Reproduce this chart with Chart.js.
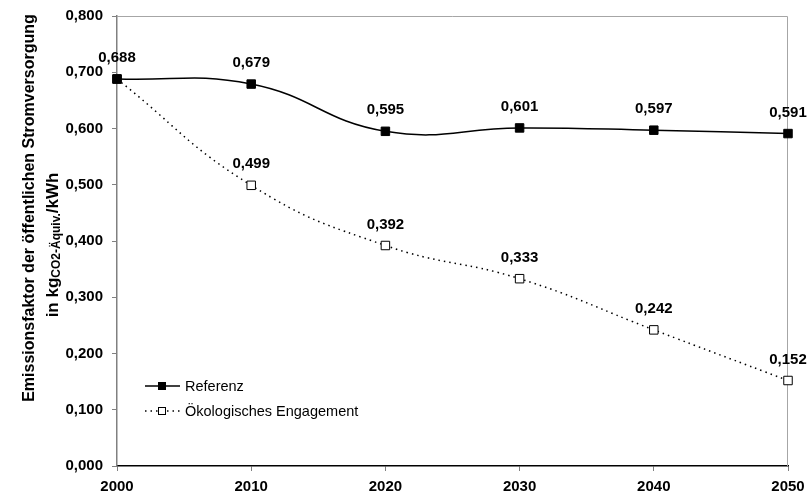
<!DOCTYPE html>
<html>
<head>
<meta charset="utf-8">
<script src="https://cdn.jsdelivr.net/npm/chart.js@4"></script>
<style>
  html, body { margin: 0; padding: 0; background: #fff; }
  #wrap { width: 808px; height: 498px; }
</style>
</head>
<body>
<div id="wrap"><canvas id="chart" width="808" height="498"></canvas></div>
<script>
// data
var jahre = [2000, 2010, 2020, 2030, 2040, 2050];
var referenz = [0.688, 0.679, 0.595, 0.601, 0.597, 0.591];
var oekologisch = [0.688, 0.499, 0.392, 0.333, 0.242, 0.152];
var serienNamen = ['Referenz', 'Ökologisches Engagement'];
var yTicks = [0, 0.1, 0.2, 0.3, 0.4, 0.5, 0.6, 0.7, 0.8];

function komma(v) {
    return v.toFixed(3).replace('.', ',');
}

function punkte(werte) {
    var arr = [];
    for (let i = 0; i < jahre.length; i++) {
        arr.push({ x: jahre[i], y: werte[i] });
    }
    return arr;
}

// labels above points (the 2000 value only once)
const wertLabels = {
    id: 'wertLabels',
    afterDatasetsDraw(chart) {
        var ctx = chart.ctx;
        ctx.save();
        ctx.font = 'bold 15px "Liberation Sans", Arial, sans-serif';
        ctx.fillStyle = '#000';
        ctx.textAlign = 'center';
        ctx.textBaseline = 'middle';
        chart.data.datasets.forEach(function (ds, di) {
            var meta = chart.getDatasetMeta(di);
            meta.data.forEach(function (pt, i) {
                if (di == 1 && i == 0) return;
                ctx.fillText(komma(ds.data[i].y), pt.x, pt.y - 21);
            });
        });
        ctx.restore();
    }
};

// gray frame top/right + legend + y title
const rahmen = {
    id: 'rahmen',
    beforeDatasetsDraw(chart) {
        var a = chart.chartArea;
        var ctx = chart.ctx;
        ctx.save();
        ctx.strokeStyle = '#a6a6a6';
        ctx.lineWidth = 1;
        ctx.beginPath();
        ctx.moveTo(a.left, a.top + 0.5);
        ctx.lineTo(a.right - 0.5, a.top + 0.5);
        ctx.lineTo(a.right - 0.5, a.bottom);
        ctx.stroke();
        ctx.restore();
    },
    afterDraw(chart) {
        var ctx = chart.ctx;
        ctx.save();
        // legend
        var ds = chart.data.datasets;
        var ly = [386, 411];
        for (let i = 0; i < ds.length; i++) {
            ctx.strokeStyle = '#000';
            ctx.lineWidth = 1.5;
            ctx.setLineDash(ds[i].borderDash || []);
            ctx.beginPath();
            ctx.moveTo(145, ly[i]);
            ctx.lineTo(180, ly[i]);
            ctx.stroke();
            ctx.setLineDash([]);
            ctx.fillStyle = ds[i].pointBackgroundColor;
            ctx.fillRect(158, ly[i] - 4, 8, 8);
            ctx.lineWidth = 1;
            ctx.strokeRect(158.5, ly[i] - 3.5, 7, 7);
            ctx.fillStyle = '#000';
            ctx.font = '14.5px "Liberation Sans", Arial, sans-serif';
            ctx.textAlign = 'left';
            ctx.textBaseline = 'middle';
            ctx.fillText(ds[i].label, 185, ly[i] + 1);
        }
        // y axis title, two lines
        ctx.rotate(-Math.PI / 2);
        ctx.fillStyle = '#000';
        ctx.textBaseline = 'middle';
        ctx.textAlign = 'center';
        ctx.font = 'bold 16px "Liberation Sans", Arial, sans-serif';
        ctx.fillText('Emissionsfaktor der öffentlichen Stromversorgung', -208, 30);
        var gross = 'bold 17px "Liberation Sans", Arial, sans-serif';
        var klein = 'bold 12px "Liberation Sans", Arial, sans-serif';
        var t1 = 'in kg', t2 = 'CO2-Äquiv.', t3 = '/kWh';
        ctx.font = gross;
        var w1 = ctx.measureText(t1).width, w3 = ctx.measureText(t3).width;
        ctx.font = klein;
        var w2 = ctx.measureText(t2).width;
        var x0 = -245 - (w1 + w2 + w3) / 2;
        ctx.textAlign = 'left';
        ctx.font = gross;
        ctx.fillText(t1, x0, 53);
        ctx.font = klein;
        ctx.fillText(t2, x0 + w1, 57);
        ctx.font = gross;
        ctx.fillText(t3, x0 + w1 + w2, 53);
        ctx.restore();
    }
};

var tickFont = { family: '"Liberation Sans", Arial, sans-serif', size: 15, weight: 'bold' };

new Chart(document.getElementById('chart').getContext('2d'), {
    type: 'line',
    data: {
        datasets: [{
            label: serienNamen[0],
            data: punkte(referenz),
            borderColor: '#000',
            borderWidth: 1.5,
            tension: 0.45,
            pointStyle: 'rect',
            pointRadius: 6,
            pointBackgroundColor: '#000',
            pointBorderColor: '#000',
            pointBorderWidth: 1
        }, {
            label: serienNamen[1],
            data: punkte(oekologisch),
            borderColor: '#000',
            borderWidth: 1.5,
            borderDash: [1.5, 4],
            tension: 0.45,
            pointStyle: 'rect',
            pointRadius: 6,
            pointBackgroundColor: '#fff',
            pointBorderColor: '#000',
            pointBorderWidth: 1
        }]
    },
    options: {
        responsive: false,
        animation: false,
        clip: false,
        layout: { padding: { top: 16, right: 20, left: 0, bottom: 0 } },
        plugins: {
            legend: { display: false },
            tooltip: { enabled: false }
        },
        scales: {
            x: {
                type: 'linear',
                min: 2000,
                max: 2050,
                afterBuildTicks(axis) {
                    axis.ticks = jahre.map(function (v) { return { value: v }; });
                },
                afterFit(axis) {
                    axis.height = 32;
                    axis.paddingLeft = 0;
                    axis.paddingRight = 0;
                },
                grid: { drawOnChartArea: false, drawTicks: true, tickLength: 5, color: '#808080' },
                border: { color: '#000', width: 1.5 },
                ticks: {
                    color: '#000',
                    font: tickFont,
                    padding: 7,
                    maxRotation: 0,
                    callback: function (v) { return String(v); }
                }
            },
            y: {
                min: 0,
                max: 0.8,
                afterBuildTicks(axis) {
                    axis.ticks = yTicks.map(function (v) { return { value: v }; });
                },
                afterFit(axis) {
                    axis.width = 117;
                    axis.paddingTop = 0;
                    axis.paddingBottom = 0;
                },
                grid: { drawOnChartArea: false, drawTicks: true, tickLength: 5, color: '#808080' },
                border: { color: '#808080', width: 1.5 },
                ticks: {
                    color: '#000',
                    font: tickFont,
                    padding: 9,
                    callback: function (v) { return komma(v); }
                }
            }
        }
    },
    plugins: [rahmen, wertLabels]
});
</script>
</body>
</html>
